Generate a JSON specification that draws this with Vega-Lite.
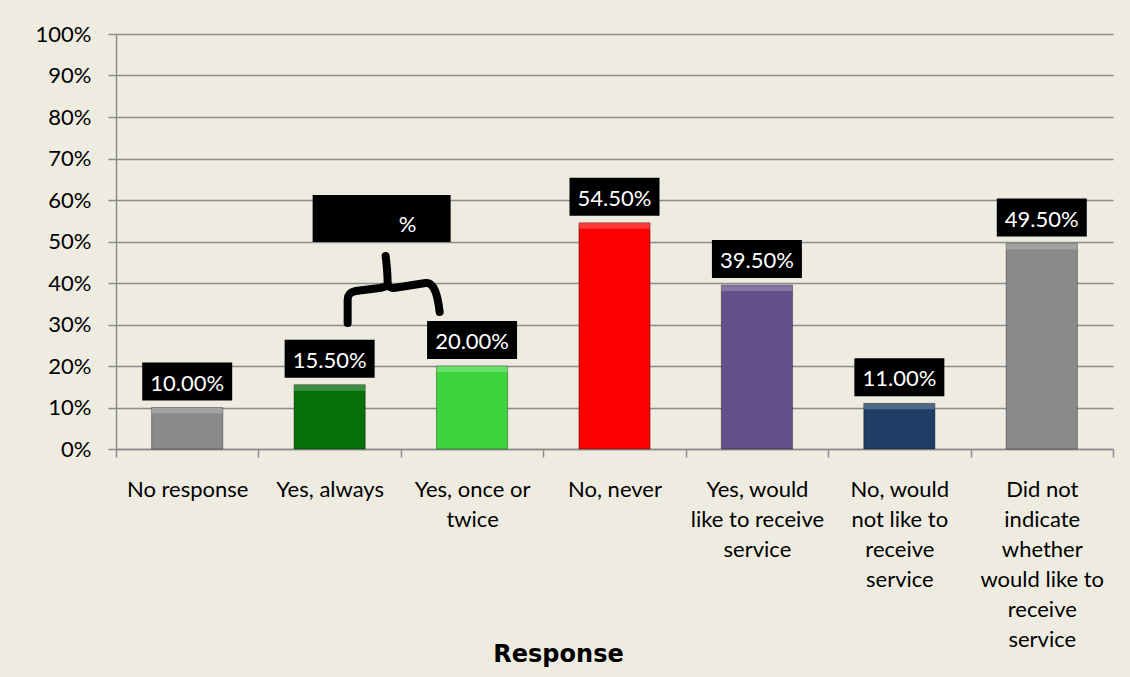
{
  "$schema": "https://vega.github.io/schema/vega-lite/v6.json",
  "autosize": {"type": "none"},
  "width": 997,
  "height": 415,
  "padding": {"left": 116, "top": 34, "right": 17, "bottom": 228},
  "background": "#EEECE1",
  "config": {
    "view": {"stroke": null},
    "font": "Lato",
    "axis": {
      "domainColor": "#8C8C8C",
      "domainWidth": 1.5,
      "tickColor": "#8C8C8C",
      "tickWidth": 1.5,
      "tickSize": 8,
      "gridColor": "#8C8C8C",
      "gridWidth": 1.5,
      "labelColor": "#000000",
      "labelFont": "Lato",
      "labelFontSize": 22
    }
  },
  "datasets": {
    "responses": [
      {"category": "No response", "share": 0.10},
      {"category": "Yes, always", "share": 0.155},
      {"category": "Yes, once or twice", "share": 0.20},
      {"category": "No, never", "share": 0.545},
      {"category": "Yes, would like to receive service", "share": 0.395},
      {"category": "No, would not like to receive service", "share": 0.11},
      {"category": "Did not indicate whether would like to receive service", "share": 0.495}
    ],
    "callout": [
      {"category": "Yes, always", "boxTop": 0.612, "braceTip": 0.465, "note": "%"}
    ]
  },
  "encoding": {
    "x": {
      "field": "category",
      "type": "nominal",
      "sort": null,
      "scale": {
        "domain": [
          "No response",
          "Yes, always",
          "Yes, once or twice",
          "No, never",
          "Yes, would like to receive service",
          "No, would not like to receive service",
          "Did not indicate whether would like to receive service"
        ],
        "paddingInner": 0,
        "paddingOuter": 0
      },
      "axis": {
        "title": "Response",
        "titleFont": "DejaVu Sans",
        "titleFontSize": 24,
        "titleFontWeight": "bold",
        "titleColor": "#000000",
        "titleX": 442,
        "titleY": 205,
        "titleAlign": "center",
        "titleBaseline": "middle",
        "labelAngle": 0,
        "labelBaseline": "top",
        "labelPadding": 22,
        "labelLineHeight": 30,
        "labelLimit": 0,
        "tickBand": "extent",
        "labelExpr": "datum.value == 'Yes, once or twice' ? ['Yes, once or', 'twice'] : datum.value == 'Yes, would like to receive service' ? ['Yes, would', 'like to receive', 'service'] : datum.value == 'No, would not like to receive service' ? ['No, would', 'not like to', 'receive', 'service'] : datum.value == 'Did not indicate whether would like to receive service' ? ['Did not', 'indicate', 'whether', 'would like to', 'receive', 'service'] : datum.value"
      }
    }
  },
  "layer": [
    {
      "data": {"name": "responses"},
      "mark": {"type": "bar", "width": {"band": 0.5}, "stroke": "#000000", "strokeOpacity": 0.35, "strokeWidth": 1},
      "encoding": {
        "y": {
          "field": "share",
          "type": "quantitative",
          "scale": {"domain": [0, 1]},
          "axis": {
            "title": null,
            "format": "%",
            "values": [0, 0.1, 0.2, 0.3, 0.4, 0.5, 0.6, 0.7, 0.8, 0.9, 1],
            "grid": true,
            "labelPadding": 17
          }
        },
        "color": {
          "field": "category",
          "type": "nominal",
          "legend": null,
          "scale": {
            "domain": [
              "No response",
              "Yes, always",
              "Yes, once or twice",
              "No, never",
              "Yes, would like to receive service",
              "No, would not like to receive service",
              "Did not indicate whether would like to receive service"
            ],
            "range": ["#8A8A8A", "#08700A", "#3CD63C", "#FF0000", "#66508A", "#1F3E66", "#8A8A8A"]
          }
        }
      }
    },
    {
      "data": {"name": "responses"},
      "mark": {"type": "bar", "width": {"band": 0.5}, "fill": "#FFFFFF", "opacity": 0.22, "y2Offset": 6},
      "encoding": {
        "y": {
          "field": "share",
          "type": "quantitative",
          "axis": {
            "title": null,
            "format": "%",
            "values": [0, 0.1, 0.2, 0.3, 0.4, 0.5, 0.6, 0.7, 0.8, 0.9, 1],
            "grid": true,
            "labelPadding": 17
          }
        },
        "y2": {"field": "share"}
      }
    },
    {
      "data": {"name": "responses"},
      "mark": {"type": "bar", "fill": "#000000", "width": 90, "yOffset": -45, "y2Offset": -7},
      "encoding": {
        "y": {
          "field": "share",
          "type": "quantitative",
          "axis": {
            "title": null,
            "format": "%",
            "values": [0, 0.1, 0.2, 0.3, 0.4, 0.5, 0.6, 0.7, 0.8, 0.9, 1],
            "grid": true,
            "labelPadding": 17
          }
        },
        "y2": {"field": "share"}
      }
    },
    {
      "data": {"name": "responses"},
      "mark": {"type": "text", "color": "#FFFFFF", "font": "Lato", "fontSize": 22, "baseline": "middle", "dy": -24},
      "encoding": {
        "y": {
          "field": "share",
          "type": "quantitative",
          "axis": {
            "title": null,
            "format": "%",
            "values": [0, 0.1, 0.2, 0.3, 0.4, 0.5, 0.6, 0.7, 0.8, 0.9, 1],
            "grid": true,
            "labelPadding": 17
          }
        },
        "text": {"field": "share", "type": "quantitative", "format": ".2%"}
      }
    },
    {
      "data": {"name": "callout"},
      "mark": {"type": "point", "shape": "M-17,0H121V47H-17Z", "size": 4, "filled": true, "color": "#000000", "opacity": 1},
      "encoding": {
        "y": {
          "field": "boxTop",
          "type": "quantitative",
          "axis": {
            "title": null,
            "format": "%",
            "values": [0, 0.1, 0.2, 0.3, 0.4, 0.5, 0.6, 0.7, 0.8, 0.9, 1],
            "grid": true,
            "labelPadding": 17
          }
        }
      }
    },
    {
      "data": {"name": "callout"},
      "mark": {"type": "text", "color": "#FFFFFF", "font": "Lato", "fontSize": 22, "baseline": "middle", "dx": 78, "dy": 30},
      "encoding": {
        "y": {
          "field": "boxTop",
          "type": "quantitative",
          "axis": {
            "title": null,
            "format": "%",
            "values": [0, 0.1, 0.2, 0.3, 0.4, 0.5, 0.6, 0.7, 0.8, 0.9, 1],
            "grid": true,
            "labelPadding": 17
          }
        },
        "text": {"field": "note"}
      }
    },
    {
      "data": {"name": "callout"},
      "mark": {
        "type": "point",
        "shape": "M18,67L18,44C18,38 21,36 26,35L50,32C55,31 58,30 58,28C58,20 57,8 56,0M58,28C59,31 61,32 64,32L96,27C104,26 108,38 110,56",
        "size": 4,
        "filled": false,
        "stroke": "#000000",
        "strokeWidth": 8,
        "strokeCap": "round",
        "strokeJoin": "round",
        "opacity": 1
      },
      "encoding": {
        "y": {
          "field": "braceTip",
          "type": "quantitative",
          "axis": {
            "title": null,
            "format": "%",
            "values": [0, 0.1, 0.2, 0.3, 0.4, 0.5, 0.6, 0.7, 0.8, 0.9, 1],
            "grid": true,
            "labelPadding": 17
          }
        }
      }
    }
  ]
}
